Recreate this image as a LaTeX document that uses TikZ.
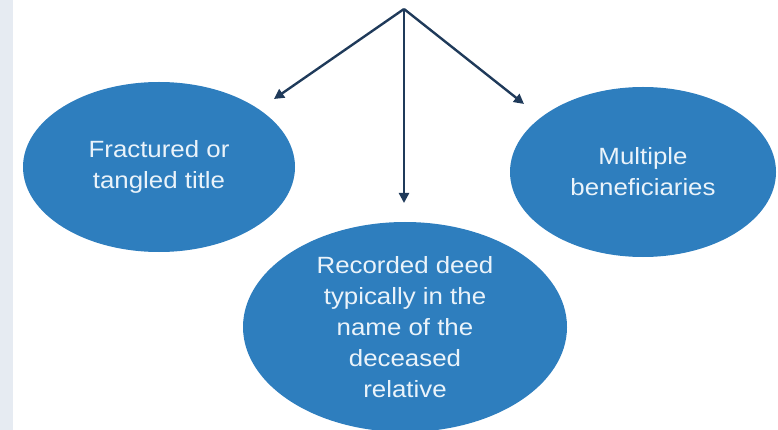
\documentclass[tikz,border=0pt]{standalone}
\usepackage{fontspec}
\usepackage{xcolor}
\usepackage{tikz}
\usetikzlibrary{shapes.geometric, arrows.meta}
\newfontfamily\bubblefont{Liberation Sans}[FakeStretch=1.1]
\definecolor{bubbleblue}{RGB}{46, 126, 190}
\definecolor{bubbletext}{RGB}{234, 243, 250}
\definecolor{arrownavy}{RGB}{31, 58, 90}
\definecolor{sidebar}{RGB}{230, 235, 242}

\begin{document}
\begin{tikzpicture}[
    x=1pt, y=-1pt,
    bubble/.style={
        ellipse, fill=bubbleblue, draw=none, inner sep=0pt,
        text=bubbletext, align=center,
        font=\bubblefont\fontsize{23.5}{31}\selectfont
    },
    line/.style={draw, -{Triangle[length=10pt, width=10pt]}, line width=2.4pt, color=arrownavy}
]
    \useasboundingbox (0,0) rectangle (778,430);
    \fill [sidebar] (0,0) rectangle (13,430);

    \node [bubble, minimum width=272pt, minimum height=170pt] (title) at (159,167) {Fractured or\\tangled title};
    \node [bubble, minimum width=266pt, minimum height=170pt] (heirs) at (643,172) {Multiple\\beneficiaries};
    \node [bubble, minimum width=324pt, minimum height=210pt] (deed)  at (405,327) {Recorded deed\\typically in the\\name of the\\deceased\\relative};

    \coordinate (apex)  at (404,9);
    \coordinate (tipL)  at (274,99);
    \coordinate (tipM)  at (404,203);
    \coordinate (tipR)  at (524,104);

    \path [line] (apex) -- (tipL);
    \path [line] (apex) -- (tipM);
    \path [line] (apex) -- (tipR);
\end{tikzpicture}
\end{document}
